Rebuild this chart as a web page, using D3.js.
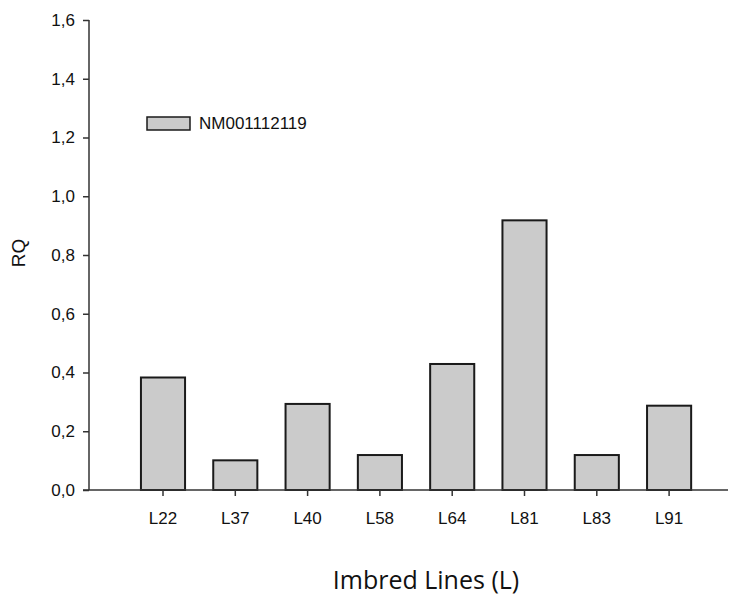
<!DOCTYPE html>
<html>
<head>
<meta charset="utf-8">
<script src="https://cdn.jsdelivr.net/npm/d3@7"></script>
<style>
  body { margin: 0; background: #fff; }
  text { font-family: "Liberation Sans", Arial, sans-serif; fill: #111; }
</style>
</head>
<body>
<svg id="chart" width="730" height="597"></svg>
<script>
// data
const lines = ["L22", "L37", "L40", "L58", "L64", "L81", "L83", "L91"];
const rqValues = [0.383, 0.101, 0.293, 0.119, 0.429, 0.918, 0.119, 0.287];
const yTicks = [0, 0.2, 0.4, 0.6, 0.8, 1.0, 1.2, 1.4, 1.6];
const seriesName = "NM001112119";

const svg = d3.select("#chart");

const plotLeft = 89, plotRight = 728, plotTop = 20, plotBottom = 490;
const step = 72.3;
const firstCenter = 163;

// bars centred on the ticks, inner padding ~0.39 of a step
let x = d3.scaleBand()
    .domain(lines)
    .range([firstCenter - step / 2, firstCenter - step / 2 + step * lines.length])
    .paddingInner(0.39)
    .paddingOuter(0.195);

let y = d3.scaleLinear()
    .domain([0, 1.6])
    .range([plotBottom, plotTop]);

const fmt = d => d.toFixed(1).replace(".", ",");

// bars
svg.selectAll(".bar")
    .data(lines.map((l, i) => ({ name: l, value: rqValues[i] })))
    .enter().append("rect")
    .attr("class", "bar")
    .attr("x", d => x(d.name))
    .attr("width", x.bandwidth())
    .attr("y", d => y(d.value))
    .attr("height", d => plotBottom - y(d.value))
    .attr("fill", "#cbcbcb")
    .attr("stroke", "#1a1a1a")
    .attr("stroke-width", 2);

// y axis
let yAxis = d3.axisLeft(y)
    .tickValues(yTicks)
    .tickFormat(fmt)
    .tickSize(6)
    .tickPadding(8);

let yG = svg.append("g")
    .attr("transform", `translate(${plotLeft},0)`)
    .call(yAxis);
yG.select(".domain").attr("d", `M0,${plotTop}V${plotBottom}`);

// x axis
let xAxis = d3.axisBottom(x)
    .tickSize(6)
    .tickPadding(16);

let xG = svg.append("g")
    .attr("transform", `translate(0,${plotBottom})`)
    .call(xAxis);
xG.select(".domain").attr("d", `M${plotLeft - 6},0H${plotRight}`);

svg.selectAll(".tick text")
    .style("font-size", "17px")
    .style("font-family", "'Liberation Sans', Arial, sans-serif")
    .attr("fill", "#151515");
svg.selectAll(".domain, .tick line")
    .attr("stroke", "#333")
    .attr("stroke-width", 1.5);

// axis titles
svg.append("text")
    .attr("transform", "translate(25,253) rotate(-90)")
    .attr("text-anchor", "middle")
    .style("font-size", "19px")
    .text("RQ");

svg.append("text")
    .attr("x", 426)
    .attr("y", 589)
    .attr("text-anchor", "middle")
    .style("font-family", "'Open Sans', sans-serif")
    .style("font-size", "25px")
    .text("Imbred Lines (L)");

// legend
let legend = svg.append("g")
    .attr("transform", "translate(147,117)");
legend.append("rect")
    .attr("width", 43)
    .attr("height", 13)
    .attr("fill", "#cbcbcb")
    .attr("stroke", "#1a1a1a")
    .attr("stroke-width", 1.5);
legend.append("text")
    .attr("x", 52)
    .attr("y", 12)
    .style("font-size", "17px")
    .text(seriesName);
</script>
</body>
</html>
